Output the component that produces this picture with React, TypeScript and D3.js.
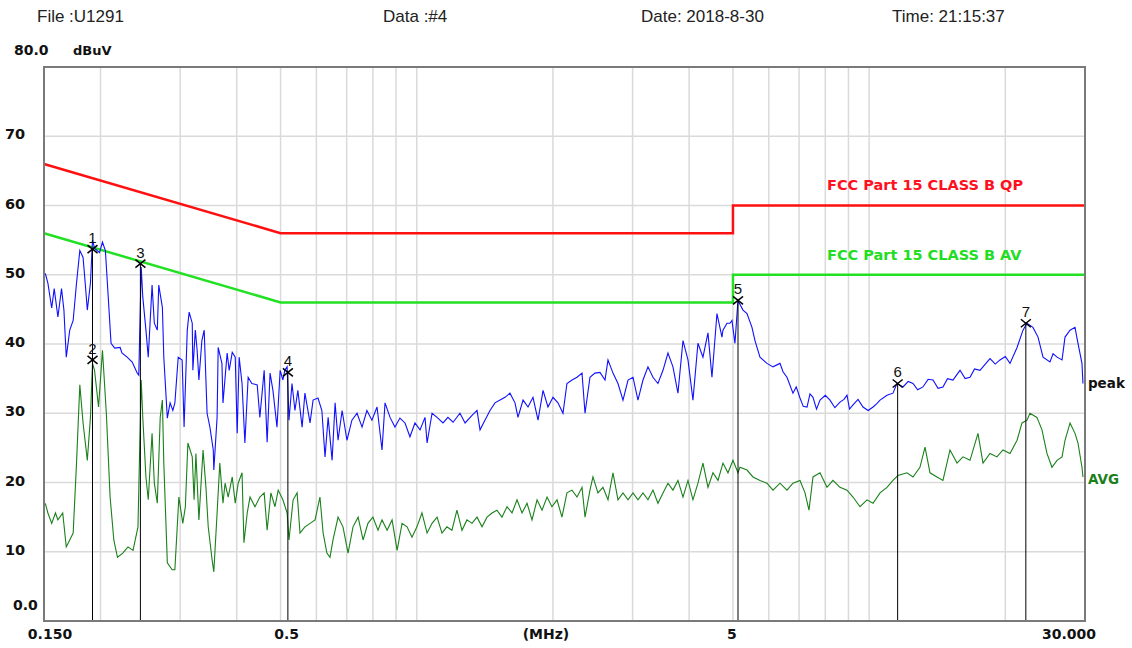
import * as d3 from "d3";

type Pt = [number, number];

// peak trace: [MHz, dBuV]
const peak: Pt[] = [
  [0.151, 50.2], [0.153, 48.8], [0.156, 45.2], [0.158, 48.0], [0.161, 43.9], [0.164, 48.0],
  [0.166, 44.9], [0.168, 38.1], [0.171, 42.0], [0.174, 43.4], [0.177, 48.8], [0.18, 53.5],
  [0.183, 52.5], [0.185, 48.8], [0.187, 44.9], [0.19, 48.8], [0.192, 55.0], [0.194, 53.8],
  [0.199, 53.2], [0.202, 54.7], [0.205, 53.5], [0.208, 46.8], [0.211, 40.1], [0.215, 39.4],
  [0.221, 39.5], [0.223, 38.7], [0.229, 38.1], [0.235, 37.4], [0.241, 35.8], [0.243, 35.5],
  [0.246, 51.1], [0.248, 46.8], [0.252, 42.0], [0.255, 38.1], [0.26, 48.5], [0.263, 43.0],
  [0.267, 42.0], [0.269, 48.5], [0.274, 45.3], [0.276, 38.1], [0.281, 29.3], [0.285, 31.5],
  [0.289, 30.4], [0.292, 31.5], [0.297, 38.1], [0.303, 37.7], [0.306, 28.0], [0.311, 42.0],
  [0.314, 44.6], [0.319, 43.0], [0.32, 36.2], [0.324, 42.0], [0.327, 39.1], [0.33, 34.8],
  [0.335, 40.5], [0.339, 42.0], [0.344, 30.0], [0.349, 28.0], [0.355, 24.7], [0.356, 21.8],
  [0.362, 29.4], [0.364, 39.5], [0.371, 37.2], [0.373, 31.5], [0.381, 38.7], [0.385, 36.2],
  [0.391, 38.8], [0.397, 38.1], [0.401, 27.1], [0.405, 38.1], [0.411, 34.3], [0.417, 25.7],
  [0.424, 35.2], [0.432, 34.3], [0.444, 34.1], [0.45, 29.4], [0.46, 36.2], [0.467, 25.8],
  [0.474, 35.8], [0.481, 33.3], [0.491, 28.0], [0.499, 36.2], [0.506, 34.8], [0.511, 36.2],
  [0.517, 36.7], [0.522, 29.0], [0.53, 34.3], [0.538, 30.4], [0.546, 33.3], [0.558, 28.0],
  [0.566, 32.9], [0.581, 28.6], [0.59, 31.9], [0.605, 32.2], [0.617, 30.4], [0.627, 23.7],
  [0.637, 29.4], [0.65, 23.2], [0.66, 31.5], [0.67, 26.1], [0.684, 30.4], [0.701, 26.1],
  [0.719, 29.0], [0.738, 30.0], [0.757, 28.0], [0.776, 30.4], [0.796, 29.0], [0.817, 30.9],
  [0.838, 24.7], [0.851, 31.5], [0.873, 29.4], [0.895, 28.0], [0.918, 29.3], [0.942, 28.6],
  [0.966, 26.6], [0.991, 28.6], [1.017, 27.6], [1.043, 29.4], [1.054, 25.7], [1.081, 30.0],
  [1.109, 29.4], [1.143, 28.6], [1.172, 29.4], [1.203, 28.7], [1.246, 30.0], [1.279, 28.6],
  [1.325, 29.7], [1.359, 30.4], [1.38, 27.6], [1.415, 29.0], [1.452, 30.4], [1.489, 31.5],
  [1.528, 31.9], [1.567, 32.3], [1.607, 32.9], [1.649, 31.5], [1.674, 29.4], [1.718, 31.9],
  [1.762, 30.9], [1.807, 32.3], [1.854, 29.0], [1.902, 33.3], [1.95, 30.9], [2.001, 32.3],
  [2.052, 31.5], [2.105, 30.0], [2.148, 34.3], [2.204, 34.8], [2.261, 35.2], [2.319, 35.8],
  [2.355, 30.0], [2.415, 35.2], [2.477, 35.8], [2.541, 35.9], [2.607, 34.8], [2.647, 37.7],
  [2.715, 35.8], [2.785, 34.3], [2.857, 31.9], [2.931, 34.8], [3.006, 35.2], [3.083, 31.9],
  [3.163, 34.8], [3.244, 36.7], [3.328, 35.2], [3.413, 34.3], [3.502, 36.2], [3.592, 38.7],
  [3.684, 36.7], [3.779, 32.9], [3.877, 40.5], [3.977, 37.7], [4.079, 31.9], [4.184, 40.1],
  [4.292, 38.1], [4.403, 41.6], [4.493, 35.2], [4.609, 44.4], [4.728, 41.0], [4.752, 42.0],
  [4.85, 43.0], [4.924, 43.0], [4.975, 43.4], [5.051, 40.1], [5.129, 46.3], [5.262, 44.9],
  [5.37, 44.4], [5.508, 42.4], [5.593, 40.5], [5.737, 38.1], [5.945, 37.2], [6.13, 36.7],
  [6.352, 37.2], [6.45, 36.0], [6.582, 35.2], [6.786, 32.9], [6.9, 33.8], [7.033, 32.2],
  [7.15, 31.0], [7.289, 30.9], [7.4, 32.8], [7.514, 32.3], [7.65, 30.6], [7.787, 31.9],
  [8.0, 32.6], [8.193, 31.9], [8.4, 30.8], [8.62, 31.6], [8.8, 32.0], [8.933, 32.6],
  [9.05, 30.6], [9.211, 31.2], [9.45, 32.0], [9.692, 30.9], [9.95, 30.4], [10.2, 30.9],
  [10.4, 31.4], [10.57, 31.9], [10.95, 32.6], [11.29, 32.9], [11.52, 34.3], [11.88, 33.8],
  [12.2, 34.6], [12.5, 34.3], [12.8, 33.4], [13.15, 33.8], [13.5, 34.9], [13.84, 34.8],
  [14.2, 33.6], [14.56, 33.8], [14.9, 35.0], [15.32, 34.8], [15.88, 36.2], [16.3, 35.0],
  [16.71, 35.2], [17.1, 36.4], [17.58, 36.2], [18.0, 37.0], [18.5, 37.9], [19.0, 37.1],
  [19.46, 37.7], [20.0, 38.2], [20.48, 37.2], [21.23, 39.5], [21.88, 42.0], [22.33, 43.0],
  [23.02, 42.4], [23.62, 41.0], [24.23, 38.1], [25.1, 37.4], [25.5, 38.6], [26.02, 38.1],
  [26.69, 37.7], [27.1, 41.0], [27.8, 42.0], [28.51, 42.4], [28.95, 40.1], [29.54, 37.2],
  [29.69, 34.3],
];

// average trace: [MHz, dBuV]
const avg: Pt[] = [
  [0.151, 17.0], [0.153, 15.6], [0.156, 14.1], [0.159, 15.6], [0.161, 14.6], [0.165, 15.6],
  [0.168, 10.7], [0.171, 11.7], [0.174, 12.7], [0.177, 22.8], [0.18, 34.1], [0.183, 28.6],
  [0.187, 23.2], [0.19, 29.4], [0.192, 37.2], [0.194, 36.2], [0.198, 30.9], [0.202, 39.1],
  [0.206, 30.0], [0.21, 17.9], [0.214, 11.7], [0.218, 9.2], [0.224, 9.8], [0.23, 10.7],
  [0.236, 10.2], [0.242, 13.6], [0.246, 34.8], [0.248, 29.4], [0.252, 20.8], [0.255, 17.5],
  [0.26, 27.1], [0.263, 19.9], [0.267, 17.0], [0.271, 29.4], [0.274, 31.9], [0.276, 22.8],
  [0.281, 8.4], [0.288, 7.4], [0.292, 7.4], [0.298, 17.9], [0.304, 14.1], [0.308, 16.5],
  [0.312, 25.7], [0.319, 23.7], [0.322, 17.5], [0.325, 24.2], [0.33, 14.6], [0.337, 24.7],
  [0.342, 19.3], [0.346, 13.6], [0.353, 8.8], [0.356, 7.1], [0.362, 15.6], [0.367, 22.8],
  [0.373, 17.0], [0.377, 19.9], [0.383, 17.9], [0.391, 20.8], [0.397, 17.0], [0.403, 19.9],
  [0.411, 21.4], [0.415, 11.3], [0.422, 15.6], [0.428, 17.9], [0.439, 16.5], [0.45, 17.9],
  [0.46, 18.5], [0.467, 13.1], [0.476, 18.5], [0.486, 16.5], [0.494, 18.9], [0.506, 17.5],
  [0.517, 15.6], [0.522, 11.7], [0.533, 17.5], [0.544, 18.5], [0.552, 12.7], [0.566, 13.6],
  [0.581, 14.1], [0.596, 14.6], [0.611, 17.9], [0.621, 12.7], [0.633, 9.8], [0.643, 9.2],
  [0.653, 11.7], [0.67, 15.0], [0.687, 13.6], [0.705, 9.8], [0.723, 13.6], [0.742, 15.0],
  [0.761, 11.7], [0.78, 14.1], [0.8, 15.0], [0.821, 13.1], [0.838, 14.6], [0.86, 13.1],
  [0.882, 14.6], [0.905, 10.2], [0.928, 14.1], [0.952, 13.6], [0.976, 12.1], [1.001, 13.6],
  [1.027, 15.6], [1.054, 12.7], [1.081, 14.1], [1.109, 15.0], [1.137, 12.7], [1.166, 13.6],
  [1.196, 13.1], [1.227, 16.0], [1.259, 13.1], [1.291, 14.6], [1.325, 14.1], [1.359, 15.0],
  [1.394, 13.6], [1.43, 15.0], [1.467, 15.6], [1.504, 16.0], [1.543, 15.0], [1.583, 16.5],
  [1.624, 15.6], [1.666, 17.5], [1.709, 15.6], [1.753, 17.0], [1.798, 14.6], [1.845, 17.5],
  [1.892, 16.0], [1.941, 17.9], [1.99, 16.5], [2.042, 17.5], [2.094, 15.0], [2.148, 18.5],
  [2.204, 18.9], [2.261, 17.9], [2.319, 19.3], [2.355, 15.0], [2.415, 18.9], [2.452, 20.8],
  [2.515, 18.5], [2.58, 19.3], [2.647, 17.5], [2.715, 21.4], [2.785, 17.5], [2.857, 18.5],
  [2.931, 17.5], [3.006, 18.5], [3.083, 17.5], [3.163, 18.5], [3.244, 17.5], [3.328, 18.9],
  [3.413, 17.0], [3.502, 18.5], [3.592, 19.9], [3.684, 18.9], [3.779, 20.3], [3.877, 17.9],
  [3.977, 20.3], [4.079, 17.5], [4.184, 19.9], [4.292, 22.8], [4.403, 19.3], [4.516, 21.4],
  [4.633, 20.3], [4.752, 22.8], [4.875, 21.4], [5.0, 23.2], [5.129, 21.4], [5.182, 22.2],
  [5.37, 21.8], [5.536, 20.8], [5.737, 20.3], [5.945, 19.9], [6.13, 18.9], [6.352, 19.9],
  [6.582, 18.9], [6.786, 19.9], [7.033, 20.3], [7.215, 18.5], [7.362, 16.0], [7.514, 20.8],
  [7.787, 21.4], [8.068, 19.3], [8.317, 20.3], [8.62, 19.3], [8.933, 18.9], [9.211, 17.9],
  [9.546, 16.5], [9.893, 17.5], [10.2, 17.0], [10.57, 18.5], [10.95, 19.3], [11.29, 20.3],
  [11.58, 21.0], [12.12, 21.4], [12.5, 20.8], [12.95, 22.2], [13.29, 25.1], [13.63, 21.4],
  [14.12, 20.8], [14.56, 20.3], [15.09, 24.7], [15.64, 22.8], [16.12, 23.7], [16.71, 23.2],
  [17.4, 27.1], [17.85, 22.8], [18.5, 24.2], [19.16, 23.7], [19.76, 24.7], [20.48, 24.2],
  [21.23, 26.1], [21.77, 28.6], [22.33, 29.0], [22.67, 30.0], [23.49, 29.4], [24.1, 27.6],
  [24.72, 24.2], [25.36, 22.2], [26.02, 23.2], [26.69, 23.7], [27.1, 26.1], [27.8, 28.6],
  [28.51, 27.1], [28.95, 25.7], [29.54, 22.2], [29.69, 20.8],
];

const qpLimit: Pt[] = [[0.15, 66], [0.5, 56], [5, 56], [5, 60], [30, 60]];
const avLimit: Pt[] = [[0.15, 56], [0.5, 46], [5, 46], [5, 50], [30, 50]];

const markers = [
  { id: "1", f: 0.192, v: 53.7 },
  { id: "2", f: 0.192, v: 37.7 },
  { id: "3", f: 0.245, v: 51.6 },
  { id: "4", f: 0.519, v: 35.9 },
  { id: "5", f: 5.13, v: 46.3 },
  { id: "6", f: 11.56, v: 34.3 },
  { id: "7", f: 22.2, v: 43.0 },
];

const yGrid = [10, 20, 30, 40, 50, 60, 70];
const yLabels = ["10", "20", "30", "40", "50", "60", "70"];
const xGrid = [0.2, 0.3, 0.4, 0.5, 0.6, 0.7, 0.8, 0.9, 1, 2, 3, 4, 5, 6, 7, 8, 9, 10, 20];
const xLabels = ["0.150", "0.5", "5", "30.000"];
const xLabelFreqs = [0.15, 0.5, 5, 30];
const header = ["File :U1291", "Data :#4", "Date: 2018-8-30", "Time: 21:15:37"];
const qpName = "FCC Part 15 CLASS B QP";
const avName = "FCC Part 15 CLASS B AV";

const W = 1132;
const H = 648;
const M = { left: 44, top: 67, right: 1085, bottom: 621 };

const BOLD = "'DejaVu Sans', Verdana, sans-serif";
const SANS = "'Liberation Sans', Arial, sans-serif";

export default function App() {
  const x = d3.scaleLog().domain([0.15, 30]).range([M.left, M.right]);
  const y = d3.scaleLinear().domain([0, 80]).range([M.bottom, M.top]);
  const line = d3
    .line<Pt>()
    .x((d) => x(d[0]))
    .y((d) => y(d[1]));

  const headerX = [37, 383, 641, 892];
  const xLabelDx = [6, 6, -1, -16];
  const last = peak[peak.length - 1];
  const lastAvg = avg[avg.length - 1];

  return (
    <svg
      width={W}
      height={H}
      style={{ position: "absolute", left: 0, top: 0, background: "#fff" }}
    >
      {header.map((t, i) => (
        <text key={t} x={headerX[i]} y={22} fontFamily={SANS} fontSize={17} fill="#222">
          {t}
        </text>
      ))}

      {/* grid */}
      {yGrid.map((v) => (
        <line key={"y" + v} x1={M.left} x2={M.right} y1={y(v)} y2={y(v)} stroke="#dadada" strokeWidth={1.5} />
      ))}
      {xGrid.map((f) => (
        <line key={"x" + f} x1={x(f)} x2={x(f)} y1={M.top} y2={M.bottom} stroke="#dadada" strokeWidth={1.5} />
      ))}

      {/* limit lines */}
      <path d={line(qpLimit) ?? ""} fill="none" stroke="#ff1010" strokeWidth={2.5} />
      <path d={line(avLimit) ?? ""} fill="none" stroke="#22e022" strokeWidth={2.5} />
      <text x={827} y={190} fontFamily={BOLD} fontWeight="bold" fontSize={14.5} fill="#ff1020">
        {qpName}
      </text>
      <text x={827} y={260} fontFamily={BOLD} fontWeight="bold" fontSize={14.5} fill="#22dd22">
        {avName}
      </text>

      {/* traces */}
      <path d={line(avg) ?? ""} fill="none" stroke="#1a801a" strokeWidth={1.1} />
      <path d={line(peak) ?? ""} fill="none" stroke="#1010ff" strokeWidth={1.1} />

      {/* markers */}
      {markers.map((m) => {
        const cx = x(m.f);
        const cy = y(m.v);
        return (
          <g key={m.id}>
            <line x1={cx} x2={cx} y1={cy} y2={M.bottom} stroke="#000" strokeWidth={1} />
            <line x1={cx - 5} x2={cx + 5} y1={cy - 4} y2={cy + 4} stroke="#000" strokeWidth={1.5} />
            <line x1={cx - 5} x2={cx + 5} y1={cy + 4} y2={cy - 4} stroke="#000" strokeWidth={1.5} />
            <text x={cx} y={cy - 6} textAnchor="middle" fontFamily={SANS} fontSize={15} fill="#111">
              {m.id}
            </text>
          </g>
        );
      })}

      {/* frame */}
      <rect
        x={M.left}
        y={M.top}
        width={M.right - M.left}
        height={M.bottom - M.top}
        fill="none"
        stroke="#7a7a7a"
        strokeWidth={2}
      />

      {/* axis labels */}
      <text x={14} y={55} fontFamily={BOLD} fontWeight="bold" fontSize={14} fill="#111">80.0</text>
      <text x={73} y={55} fontFamily={BOLD} fontWeight="bold" fontSize={13} fill="#111">dBuV</text>
      {yGrid.map((v, i) => (
        <text key={"yl" + v} x={5} y={y(v) - 2} dominantBaseline="central" fontFamily={BOLD} fontWeight="bold" fontSize={14.5} fill="#111">
          {yLabels[i]}
        </text>
      ))}
      <text x={13} y={605} dominantBaseline="central" fontFamily={BOLD} fontWeight="bold" fontSize={14} fill="#111">0.0</text>
      {xLabels.map((t, i) => (
        <text key={t} x={x(xLabelFreqs[i]) + xLabelDx[i]} y={634} textAnchor="middle" dominantBaseline="central" fontFamily={BOLD} fontWeight="bold" fontSize={14} fill="#111">
          {t}
        </text>
      ))}
      <text x={x(1.93)} y={634} textAnchor="middle" dominantBaseline="central" fontFamily={BOLD} fontWeight="bold" fontSize={14} fill="#111">(MHz)</text>

      <text x={x(last[0]) + 5} y={y(last[1])} dominantBaseline="central" fontFamily={BOLD} fontWeight="bold" fontSize={13.5} fill="#111">peak</text>
      <text x={x(lastAvg[0]) + 5} y={y(lastAvg[1]) + 2} dominantBaseline="central" fontFamily={BOLD} fontWeight="bold" fontSize={13.5} fill="#1a801a">AVG</text>
    </svg>
  );
}
